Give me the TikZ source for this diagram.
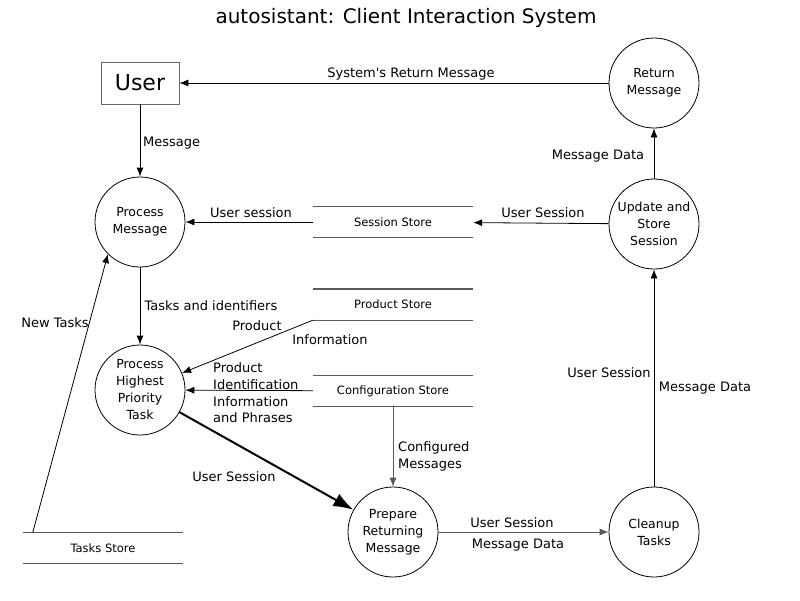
\documentclass[tikz,border=0pt]{standalone}
\usepackage{fontspec}
\setmainfont{DejaVu Sans}
\usetikzlibrary{arrows.meta,calc}
\begin{document}
\begin{tikzpicture}[x=1pt,y=-1pt,
 proc/.style={circle,draw,line width=0.8pt,minimum size=90pt,inner sep=0pt,align=center,font=\fontsize{12.5}{17}\selectfont},
 store/.style={minimum width=160pt,minimum height=31pt,inner sep=0pt,font=\fontsize{11.5}{13}\selectfont},
 lbl/.style={font=\fontsize{13}{16.6}\selectfont,inner sep=0pt,yshift=-2pt},
 flow/.style={-{Latex[length=9pt,width=7pt]},line width=0.8pt},
 bigflow/.style={-{Latex[length=20pt,width=14pt]},line width=2pt},
 sline/.style={line width=1.4pt,draw=black!65}]
\useasboundingbox[fill=white] (0,0) rectangle (800,600);

\node[lbl,font=\fontsize{20}{24}\selectfont] (title) at (406,16) {autosistant: Client Interaction System};
\node[draw=black!60,line width=0.8pt,minimum width=78pt,minimum height=42pt,inner sep=0pt,font=\fontsize{22}{26}\selectfont] (user) at (140,83) {User};

\node[proc] (ret) at (654,83) {Return\\Message};
\node[proc] (pm) at (140,222) {Process\\Message};
\node[proc] (upd) at (654,224) {Update and\\Store\\Session};
\node[proc] (phpt) at (140,390) {Process\\Highest\\Priority\\Task};
\node[proc] (prep) at (393,532) {Prepare\\Returning\\Message};
\node[proc] (clean) at (654,532) {Cleanup\\Tasks};

\node[store] (ss) at (393,222) {Session Store};
\node[store] (ps) at (393,304.5) {Product Store};
\node[store] (cs) at (393,391) {Configuration Store};
\node[store] (ts) at (103,548) {Tasks Store};
\foreach \s in {ss,ps,cs,ts}{
  \draw[sline] (\s.north west) -- (\s.north east) (\s.south west) -- (\s.south east);
}
\coordinate (tsstart) at ($(ts.north west)+(10,0)$);

\draw[flow] (ret) -- (user);
\draw[flow] (user) -- (pm);
\draw[flow] (ss) -- (pm);
\draw[flow] (upd) -- (ss);
\draw[flow] (upd) -- (ret);
\draw[flow] (clean) -- (upd);
\draw[flow,draw=black!65] (prep) -- (clean);
\draw[flow,draw=black!65] (cs) -- (prep);
\draw[flow] (cs) -- (phpt);
\draw[flow] (ps.south west) -- (phpt);
\draw[flow] (pm) -- (phpt);
\draw[bigflow] (phpt) -- (prep);
\draw[flow] (tsstart) -- (pm.225);

\node[lbl] (l1) at (411,72) {System\textquotesingle s Return Message};
\node[lbl,anchor=west] (l2) at (143,141) {Message};
\node[lbl] (l3) at (251,211) {User session};
\node[lbl] (l4) at (543,211) {User Session};
\node[lbl] (l5) at (598,154) {Message Data};
\node[lbl] (l6) at (211,304) {Tasks and identifiers};
\node[lbl] (l7) at (257,324) {Product};
\node[lbl] (l8) at (330,338) {Information};
\node[lbl,align=left,anchor=west] (l9) at (213,391) {Product\\Identification\\Information\\and Phrases};
\node[lbl,align=left,anchor=west] (l10) at (398,454.5) {Configured\\Messages};
\node[lbl] (l11) at (234,475) {User Session};
\node[lbl] (l12) at (512,521) {User Session};
\node[lbl] (l13) at (518,543) {Message Data};
\node[lbl] (l14) at (609,371) {User Session};
\node[lbl] (l15) at (705,386) {Message Data};
\node[lbl] (l16) at (55,321) {New Tasks};
\end{tikzpicture}
\end{document}
